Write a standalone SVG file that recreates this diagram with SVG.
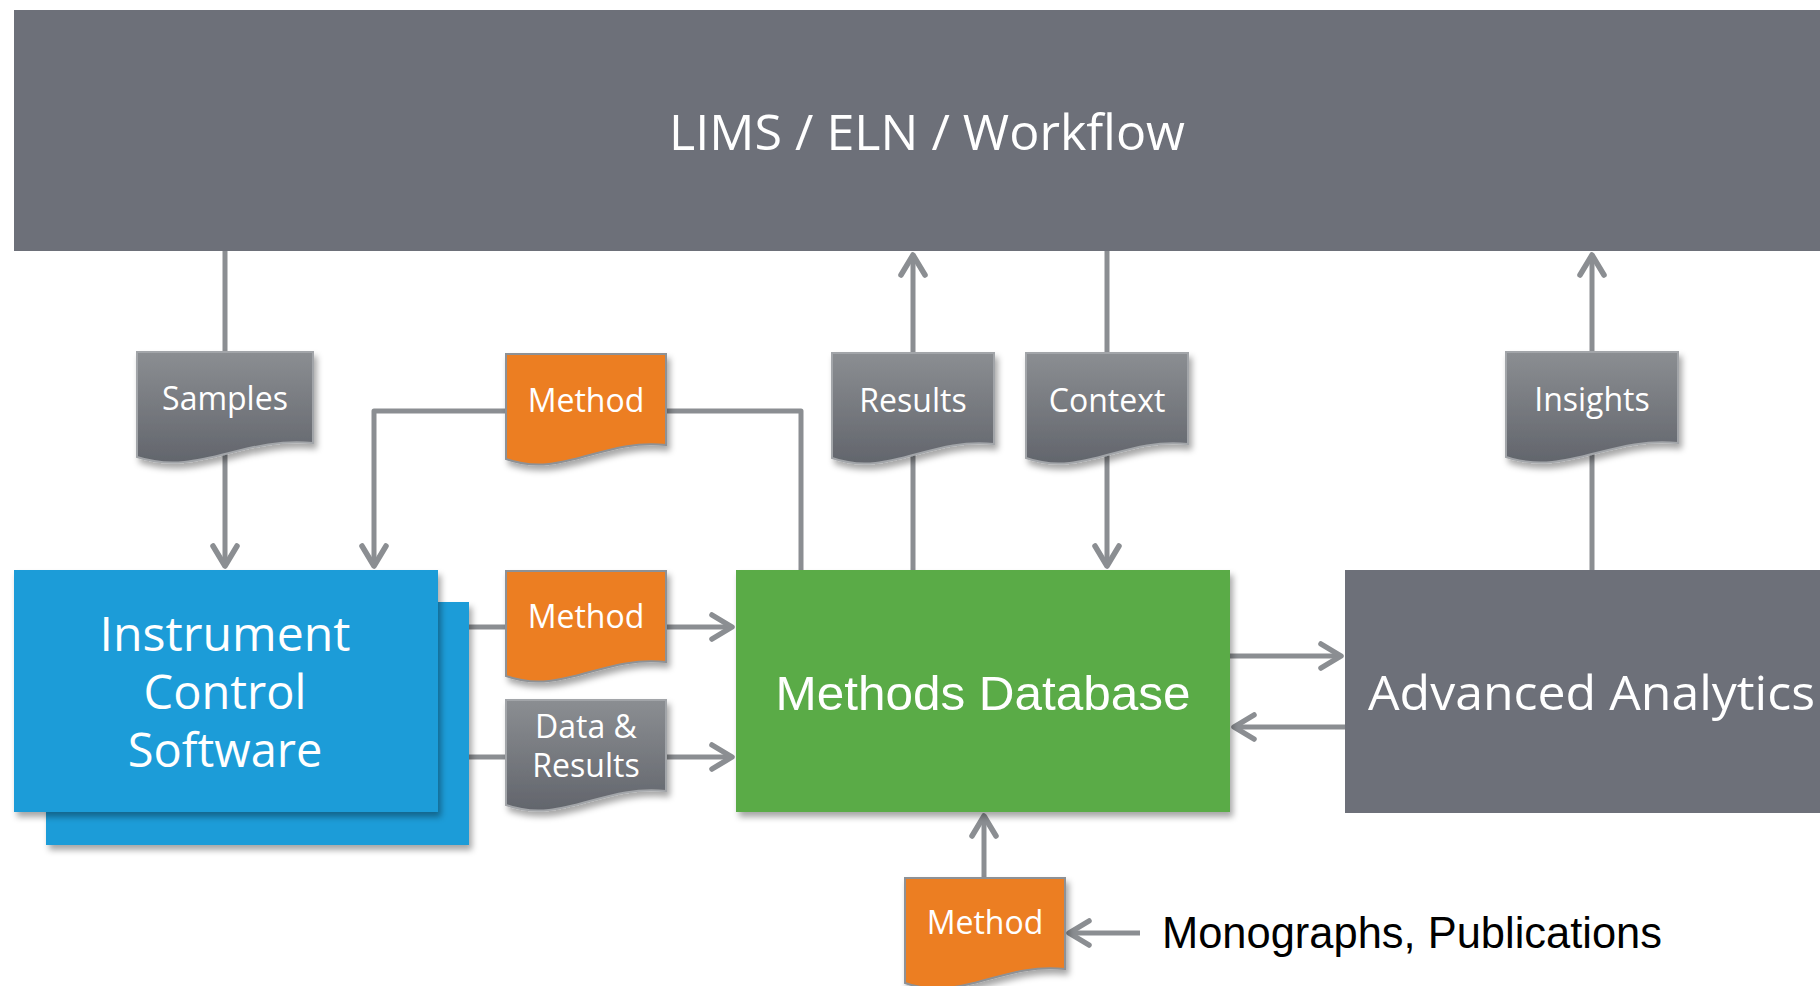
<svg xmlns="http://www.w3.org/2000/svg" width="1820" height="986" viewBox="0 0 1820 986">
  <defs>
    <style>
      .lbl { font-family: "Open Sans", "Noto Sans", sans-serif; fill: #ffffff; text-anchor: middle; }
      .doc-lbl { font-size: 32px; }
      .conn { fill: none; stroke: #8b8e92; stroke-width: 5; stroke-linecap: butt; stroke-linejoin: round; }
      .doc-gray { fill: url(#grayDoc); stroke: #a2a5a9; stroke-width: 2; filter: url(#shadow); }
      .doc-orange { fill: #ec7e23; stroke: #8e9195; stroke-width: 2; filter: url(#shadow); }
    </style>
    <linearGradient id="grayDoc" x1="0" y1="0" x2="0" y2="1">
      <stop offset="0" stop-color="#8b8e92"/>
      <stop offset="1" stop-color="#62656c"/>
    </linearGradient>
    <filter id="shadow" x="-10%" y="-10%" width="125%" height="130%">
      <feDropShadow dx="3" dy="5" stdDeviation="3" flood-color="#000000" flood-opacity="0.35"/>
    </filter>
    <marker id="arrow" markerUnits="userSpaceOnUse" viewBox="-28 -18 36 36" markerWidth="36" markerHeight="36" refX="0" refY="0" orient="auto" overflow="visible">
      <path d="M -20 -12 L 0 0 L -20 12" fill="none" stroke="#8b8e92" stroke-width="5.5" stroke-linecap="round" stroke-linejoin="round"/>
    </marker>
  </defs>

  <rect width="1820" height="986" fill="#ffffff"/>

  <!-- connectors -->
  <g id="connectors">
    <path class="conn" d="M 225 251 V 566" marker-end="url(#arrow)"/>
    <path class="conn" d="M 506 411 H 374 V 566" marker-end="url(#arrow)"/>
    <path class="conn" d="M 666 411 H 801 V 570"/>
    <path class="conn" d="M 913 570 V 255" marker-end="url(#arrow)"/>
    <path class="conn" d="M 1107 251 V 566" marker-end="url(#arrow)"/>
    <path class="conn" d="M 1592 570 V 255" marker-end="url(#arrow)"/>
    <path class="conn" d="M 469 627 H 732" marker-end="url(#arrow)"/>
    <path class="conn" d="M 438 757 H 732" marker-end="url(#arrow)"/>
    <path class="conn" d="M 1230 656 H 1341" marker-end="url(#arrow)"/>
    <path class="conn" d="M 1345 727 H 1234" marker-end="url(#arrow)"/>
    <path class="conn" d="M 984 878 V 816" marker-end="url(#arrow)"/>
    <path class="conn" d="M 1140 933 H 1069" marker-end="url(#arrow)"/>
  </g>

  <!-- LIMS / ELN / Workflow banner -->
  <g id="lims">
    <rect x="14" y="10" width="1810" height="241" fill="#6d7079"/>
    <text class="lbl" x="927" y="150" font-size="50" textLength="516" lengthAdjust="spacingAndGlyphs">LIMS / ELN / Workflow</text>
  </g>

  <!-- Instrument Control Software (stacked) -->
  <g id="instrument">
    <rect x="46" y="602" width="423" height="243" fill="#1b9cd8" filter="url(#shadow)"/>
    <rect x="14" y="570" width="424" height="242" fill="#1b9cd8" filter="url(#shadow)"/>
    <text class="lbl" x="225" y="651" font-size="47" textLength="251" lengthAdjust="spacingAndGlyphs">Instrument</text>
    <text class="lbl" x="225" y="709" font-size="47">Control</text>
    <text class="lbl" x="225" y="767" font-size="47">Software</text>
  </g>

  <!-- Methods Database -->
  <g id="methods-db">
    <rect x="736" y="570" width="494" height="242" fill="#5aab47" filter="url(#shadow)"/>
    <text x="983" y="710" font-family="'Liberation Sans', Arial, sans-serif" font-size="48" fill="#ffffff" text-anchor="middle" textLength="415" lengthAdjust="spacingAndGlyphs">Methods Database</text>
  </g>

  <!-- Advanced Analytics -->
  <g id="analytics">
    <rect x="1345" y="570" width="480" height="243" fill="#6d7079"/>
    <text x="1368" y="710" font-family="'Open Sans', 'Noto Sans', sans-serif" font-size="48" fill="#ffffff" textLength="447" lengthAdjust="spacingAndGlyphs">Advanced Analytics</text>
  </g>

  <!-- document nodes -->
  <g id="doc-samples">
    <path class="doc-gray" d="M137,352 H313 V443 C242.6,436 198.6,477 137,457 Z"/>
    <text class="lbl doc-lbl" x="225" y="410">Samples</text>
  </g>
  <g id="doc-method-top">
    <path class="doc-orange" d="M506,354 H666 V445 C602,438 562,479 506,459 Z"/>
    <text class="lbl doc-lbl" x="586" y="412">Method</text>
  </g>
  <g id="doc-results">
    <path class="doc-gray" d="M832,353 H994 V444 C929.2,437 888.7,478 832,458 Z"/>
    <text class="lbl doc-lbl" x="913" y="412">Results</text>
  </g>
  <g id="doc-context">
    <path class="doc-gray" d="M1026,353 H1188 V444 C1123.2,437 1082.7,478 1026,458 Z"/>
    <text class="lbl doc-lbl" x="1107" y="412">Context</text>
  </g>
  <g id="doc-insights">
    <path class="doc-gray" d="M1506,352 H1678 V443 C1609.2,436 1566.2,477 1506,457 Z"/>
    <text class="lbl doc-lbl" x="1592" y="411">Insights</text>
  </g>
  <g id="doc-method-mid">
    <path class="doc-orange" d="M506,571 H666 V662 C602,655 562,696 506,676 Z"/>
    <text class="lbl doc-lbl" x="586" y="628">Method</text>
  </g>
  <g id="doc-data-results">
    <path class="doc-gray" d="M506,700 H666 V791 C602,784 562,825 506,805 Z"/>
    <text class="lbl doc-lbl" x="586" y="738">Data &amp;</text>
    <text class="lbl doc-lbl" x="586" y="777">Results</text>
  </g>
  <g id="doc-method-bottom">
    <path class="doc-orange" d="M905,878 H1065 V969 C1001,962 961,1003 905,983 Z"/>
    <text class="lbl doc-lbl" x="985" y="934">Method</text>
  </g>

  <!-- external source label -->
  <g id="sources">
    <text x="1162" y="948" font-family="'Liberation Sans', Arial, sans-serif" font-size="44" fill="#000000" textLength="500" lengthAdjust="spacingAndGlyphs">Monographs, Publications</text>
  </g>
</svg>
